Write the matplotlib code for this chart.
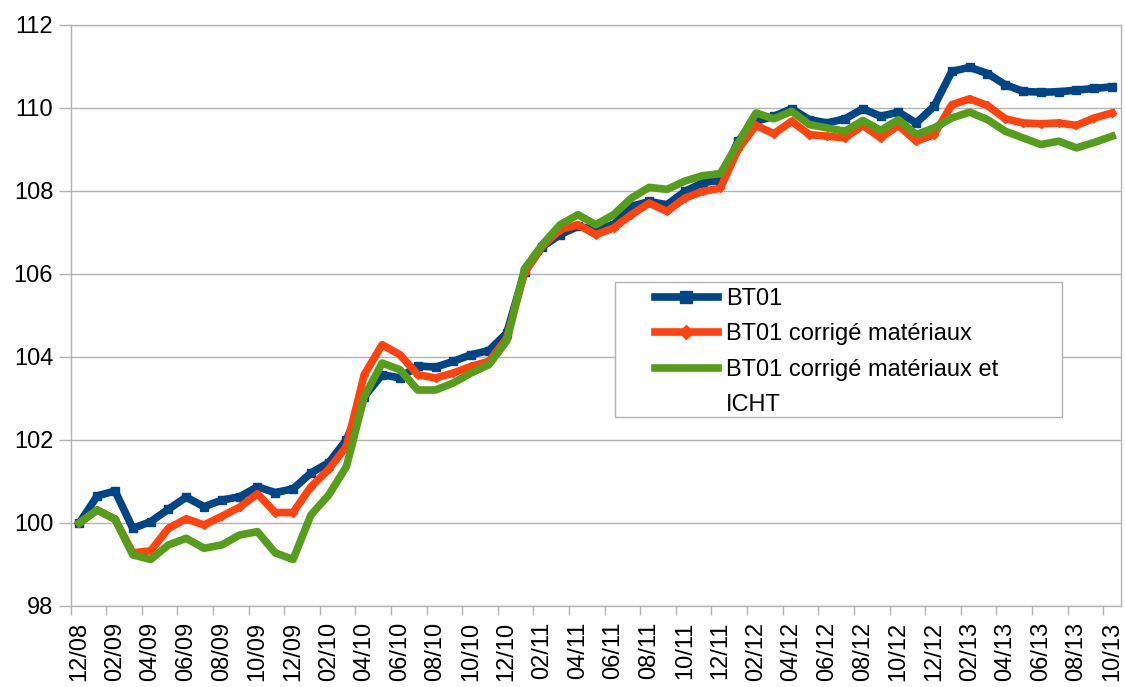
import matplotlib
matplotlib.use("Agg")
import matplotlib.pyplot as plt
from matplotlib.patches import Rectangle
from matplotlib.lines import Line2D
import numpy as np

plt.rcParams['font.family'] = ['Liberation Sans', 'DejaVu Sans']

month_labels = ["12/08", "02/09", "04/09", "06/09", "08/09", "10/09", "12/09",
                "02/10", "04/10", "06/10", "08/10", "10/10", "12/10",
                "02/11", "04/11", "06/11", "08/11", "10/11", "12/11",
                "02/12", "04/12", "06/12", "08/12", "10/12", "12/12",
                "02/13", "04/13", "06/13", "08/13", "10/13"]

bt01 = [100.0, 100.65, 100.77, 99.87, 100.03, 100.33, 100.62, 100.39, 100.55, 100.63,
        100.87, 100.73, 100.82, 101.2, 101.45, 102.0, 103.04, 103.57, 103.49, 103.78,
        103.75, 103.89, 104.05, 104.15, 104.57, 106.05, 106.65, 106.94, 107.14, 107.06,
        107.18, 107.62, 107.74, 107.66, 107.98, 108.19, 108.25, 109.2, 109.67, 109.79,
        109.97, 109.71, 109.63, 109.73, 109.97, 109.79, 109.89, 109.63, 110.03, 110.87,
        110.97, 110.82, 110.55, 110.39, 110.37, 110.38, 110.42, 110.46, 110.5]

bt01_mat = [100.0, 100.31, 100.09, 99.28, 99.33, 99.87, 100.1, 99.95, 100.16, 100.38,
            100.7, 100.25, 100.25, 100.87, 101.29, 101.84, 103.57, 104.29, 104.05, 103.57,
            103.49, 103.61, 103.77, 103.89, 104.45, 106.02, 106.66, 107.06, 107.18, 106.94,
            107.1, 107.42, 107.7, 107.5, 107.82, 107.98, 108.06, 109.0, 109.57, 109.37,
            109.67, 109.35, 109.31, 109.27, 109.57, 109.27, 109.57, 109.19, 109.35, 110.07,
            110.21, 110.05, 109.73, 109.63, 109.61, 109.63, 109.57, 109.75, 109.87]

bt01_mat_icht = [100.0, 100.31, 100.09, 99.23, 99.12, 99.47, 99.63, 99.39, 99.47, 99.71,
                 99.79, 99.28, 99.12, 100.19, 100.67, 101.36, 103.04, 103.85, 103.69, 103.2,
                 103.2, 103.37, 103.61, 103.81, 104.38, 106.12, 106.7, 107.18, 107.42, 107.18,
                 107.42, 107.82, 108.08, 108.03, 108.23, 108.36, 108.41, 109.15, 109.87, 109.73,
                 109.91, 109.59, 109.51, 109.43, 109.69, 109.45, 109.71, 109.35, 109.51, 109.75,
                 109.89, 109.71, 109.43, 109.27, 109.11, 109.19, 109.03, 109.16, 109.31]

series_names = ["BT01", "BT01 corrigé matériaux", "BT01 corrigé matériaux et", "ICHT"]
colors = ["#004586", "#ff420e", "#579d1c"]

fig = plt.figure(figsize=(11.25, 6.87), dpi=100)
ax = fig.add_axes([70.5 / 1125, 1 - 606 / 687, (1121 - 70.5) / 1125, (606 - 24.5) / 687])

x = np.arange(len(bt01))
lw = 5.5
ax.plot(x, bt01, color=colors[0], lw=lw, marker='s', ms=5.5, zorder=3)
ax.plot(x, bt01_mat, color=colors[1], lw=lw, marker='D', ms=4.5, zorder=4)
ax.plot(x, bt01_mat_icht, color=colors[2], lw=lw, zorder=5)

ax.set_xlim(-0.5, len(bt01) - 0.5)
ax.set_ylim(98, 112)
ax.set_yticks(np.arange(98, 113, 2))
ax.set_yticklabels([str(v) for v in range(98, 113, 2)])

ax.set_xticks(np.arange(0, len(bt01), 2))
ax.set_xticklabels(month_labels, rotation=90, va='top', ha='center')
ax.set_xticks(np.arange(-0.5, len(bt01), 2), minor=True)

grey = "#b3b3b3"
ax.grid(axis='y', color=grey, lw=1.0, zorder=0)
ax.set_axisbelow(True)
for s in ax.spines.values():
    s.set_color(grey)
    s.set_linewidth(1.0)

ax.tick_params(axis='x', which='major', length=0, pad=11.5, labelsize=17, colors='black')
ax.tick_params(axis='x', which='minor', length=6.5, width=1.0, color=grey)
ax.tick_params(axis='y', which='major', length=8.5, width=1.0, color=grey, pad=4,
               labelsize=17, labelcolor='black')

# legend box
fig.patches.append(Rectangle((614.5 / 1125, 1 - 417 / 687), 447.5 / 1125, 135 / 687,
                             transform=fig.transFigure, facecolor='white',
                             edgecolor=grey, lw=1.0, zorder=10))
handles = [
    Line2D([], [], color=colors[0], lw=lw, marker='s', ms=8.5),
    Line2D([], [], color=colors[1], lw=lw, marker='D', ms=7.5),
    Line2D([], [], color=colors[2], lw=lw),
    Line2D([], [], color='none', lw=0),
]
leg = fig.legend(handles, series_names, loc='upper left',
                 bbox_to_anchor=(655 / 1125, 1 - 288 / 687),
                 frameon=False, fontsize=17, handlelength=2.65, handletextpad=0.35,
                 labelspacing=0.57, borderpad=0, numpoints=1, borderaxespad=0)
leg.set_zorder(11)

fig.savefig("out.png", dpi=100)
